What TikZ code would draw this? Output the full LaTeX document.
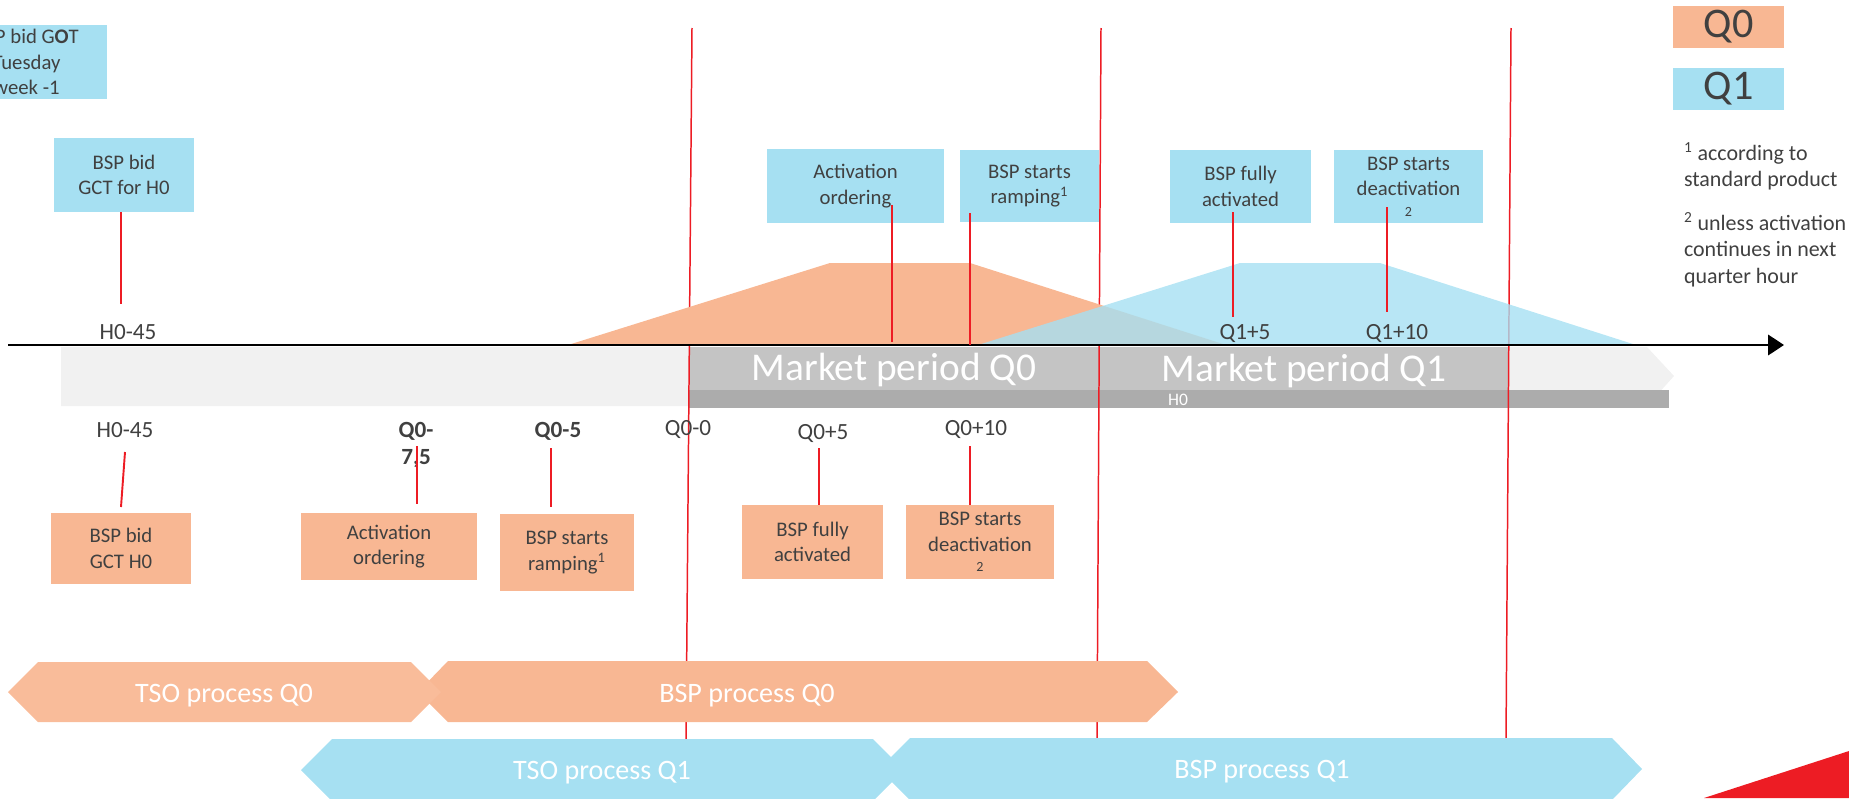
\documentclass[tikz,border=0pt]{standalone}
\usepackage{fontspec}
\setmainfont{Carlito}
\usetikzlibrary{arrows.meta}
\definecolor{evtblue}{RGB}{166,224,242}
\definecolor{evtorange}{RGB}{248,183,147}
\definecolor{tsoorange}{RGB}{249,188,154}
\definecolor{bandgray}{RGB}{241,241,241}
\definecolor{periodgray}{RGB}{196,196,196}
\definecolor{hourgray}{RGB}{172,172,172}
\definecolor{tickred}{RGB}{237,28,36}
\definecolor{inkgray}{RGB}{64,64,64}

\begin{document}
\begin{tikzpicture}[x=0.02cm,y=-0.02cm,
  every node/.style={inner sep=0pt, outer sep=0pt},
  evtbox/.style={rectangle, align=center, text=inkgray, font=\fontsize{11.8}{14.6}\selectfont},
  bluebox/.style={evtbox, fill=evtblue},
  orangebox/.style={evtbox, fill=evtorange},
  timelabel/.style={anchor=base, text=inkgray, font=\fontsize{13.2}{15.5}\selectfont},
  boldlabel/.style={text=inkgray, align=center, font=\fontsize{13.2}{15.3}\selectfont\bfseries},
  tickline/.style={draw=tickred, line width=1.1pt},
  quarterline/.style={draw=tickred, line width=0.85pt},
  proclabel/.style={anchor=base, text=white, font=\fontsize{16}{19}\selectfont},
  periodlabel/.style={anchor=base, text=white, font=\fontsize{22.4}{26}\selectfont},
  legendbox/.style={rectangle, text=inkgray, minimum width=2.22cm, minimum height=0.84cm, font=\fontsize{24}{28}\selectfont},
  notelabel/.style={anchor=west, align=left, text=inkgray, font=\fontsize{12.5}{15.1}\selectfont},
]
\useasboundingbox (0,0) rectangle (1849,798);
\clip (0,0) rectangle (1849,798);

% ---- timeline band with market periods and the hour bar
\fill[bandgray] (61,347) -- (1647,347) -- (1674,376) -- (1647,406) -- (61,406) -- cycle;
\fill[periodgray] (690,347) rectangle (1509,390);
\fill[hourgray] (689,390) rectangle (1669,408);

% ---- quarter-hour boundaries
\coordinate (qa-top) at (692,28);  \coordinate (qa-bot) at (686,740);
\coordinate (qb-top) at (1101,28); \coordinate (qb-bot) at (1097,740);
\coordinate (qc-top) at (1511,28); \coordinate (qc-bot) at (1506,740);
\draw[quarterline] (qa-top) -- (qa-bot);
\draw[quarterline] (qb-top) -- (qb-bot);
\draw[quarterline] (qc-top) -- (qc-bot);

% ---- activation profiles
\fill[evtorange] (568,345) -- (830,263) -- (970,263) -- (1226,345) -- cycle;
\fill[evtblue, fill opacity=0.8] (978,345) -- (1240,263) -- (1380,263) -- (1636,345) -- cycle;

% ---- time axis
\coordinate (ax-start) at (8,345);
\coordinate (ax-end) at (1784,345);
\draw[line width=1.4pt, -{Triangle[length=9pt,width=11.5pt]}] (ax-start) -- (ax-end);

% ---- market period labels
\node[periodlabel] (mp0) at (894,380) {Market period Q0};
\node[periodlabel] (mp1) at (1304,381) {Market period Q1};
\node[text=white, font=\fontsize{10}{12}\selectfont] (hour) at (1178,400) {H0};

% ---- events above the axis (Q1)
\node[bluebox, minimum width=3.22cm, minimum height=1.48cm] (got) at (26.5,62)
  {BSP bid G\textbf{O}T\\Tuesday\\week -1};
\node[bluebox, minimum width=2.80cm, minimum height=1.48cm] (gct1) at (124,175)
  {BSP bid\\GCT for H0};
\node[bluebox, minimum width=3.54cm, minimum height=1.48cm] (ord1) at (855.5,186)
  {Activation\\ordering};
\node[bluebox, minimum width=2.78cm, minimum height=1.44cm] (ramp1) at (1029.5,186)
  {BSP starts\\ramping\textsuperscript{1}};
\node[bluebox, minimum width=2.82cm, minimum height=1.46cm] (full1) at (1240.5,186.5)
  {BSP fully\\activated};
\node[bluebox, minimum width=2.98cm, minimum height=1.46cm] (deact1) at (1408.5,186.5)
  {BSP starts\\deactivation\\[-3pt]{\fontsize{8}{9}\selectfont 2}};

\node[timelabel] (h45a) at (128,339) {H0-45};
\node[timelabel] (q1p5) at (1245,339) {Q1+5};
\node[timelabel] (q1p10) at (1397,339) {Q1+10};

\coordinate (t-gct1-a) at (121,212); \coordinate (t-gct1-b) at (121,304);
\coordinate (t-ord1-a) at (892,205); \coordinate (t-ord1-b) at (892,342);
\coordinate (t-ramp1-a) at (970,213); \coordinate (t-ramp1-b) at (970,345);
\coordinate (t-full1-a) at (1233,212); \coordinate (t-full1-b) at (1233,317);
\coordinate (t-deact1-a) at (1387,207); \coordinate (t-deact1-b) at (1387,312);
\draw[tickline] (t-gct1-a) -- (t-gct1-b);
\draw[tickline] (t-ord1-a) -- (t-ord1-b);
\draw[tickline] (t-ramp1-a) -- (t-ramp1-b);
\draw[tickline] (t-full1-a) -- (t-full1-b);
\draw[tickline] (t-deact1-a) -- (t-deact1-b);

% ---- events below the axis (Q0)
\node[timelabel] (h45b) at (125,437) {H0-45};
\node[boldlabel] (q0m75) at (416,445) {Q0-\\7,5};
\node[timelabel, font=\fontsize{13.2}{15.5}\selectfont\bfseries] (q0m5) at (558,437) {Q0-5};
\node[timelabel] (q0m0) at (688,435) {Q0-0};
\node[timelabel] (q0p5) at (823,439) {Q0+5};
\node[timelabel] (q0p10) at (976,435) {Q0+10};

\node[orangebox, minimum width=2.80cm, minimum height=1.42cm] (gct0) at (121,548.5)
  {BSP bid\\GCT H0};
\node[orangebox, minimum width=3.52cm, minimum height=1.34cm] (ord0) at (389,546.5)
  {Activation\\ordering};
\node[orangebox, minimum width=2.68cm, minimum height=1.54cm] (ramp0) at (567,552.5)
  {BSP starts\\ramping\textsuperscript{1}};
\node[orangebox, minimum width=2.82cm, minimum height=1.48cm] (full0) at (812.5,542)
  {BSP fully\\activated};
\node[orangebox, minimum width=2.96cm, minimum height=1.48cm] (deact0) at (980,542)
  {BSP starts\\deactivation\\[-3pt]{\fontsize{8}{9}\selectfont 2}};

\coordinate (t-gct0-a) at (125,452); \coordinate (t-gct0-b) at (121,507);
\coordinate (t-ord0-a) at (417,446); \coordinate (t-ord0-b) at (417,504);
\coordinate (t-ramp0-a) at (551,448); \coordinate (t-ramp0-b) at (551,507);
\coordinate (t-full0-a) at (819,448); \coordinate (t-full0-b) at (819,505);
\coordinate (t-deact0-a) at (970,446); \coordinate (t-deact0-b) at (970,505);
\draw[tickline] (t-gct0-a) -- (t-gct0-b);
\draw[tickline] (t-ord0-a) -- (t-ord0-b);
\draw[tickline] (t-ramp0-a) -- (t-ramp0-b);
\draw[tickline] (t-full0-a) -- (t-full0-b);
\draw[tickline] (t-deact0-a) -- (t-deact0-b);

% ---- process chevrons
\fill[evtorange] (418,692) -- (448,661) -- (1147,661) -- (1178,692) -- (1147,722) -- (448,722) -- cycle;
\fill[tsoorange] (8,692) -- (38,662) -- (411,662) -- (441,692) -- (411,722) -- (38,722) -- cycle;
\fill[evtblue] (879,769) -- (910,738) -- (1612,738) -- (1642,769) -- (1612,800) -- (910,800) -- cycle;
\fill[evtblue] (301,770) -- (332,739) -- (873,739) -- (904,770) -- (873,801) -- (332,801) -- cycle;
\node[proclabel] (tso0) at (224,702) {TSO process Q0};
\node[proclabel] (bsp0) at (747,702) {BSP process Q0};
\node[proclabel] (tso1) at (602,779) {TSO process Q1};
\node[proclabel] (bsp1) at (1262,778) {BSP process Q1};

% ---- legend and footnotes
\node[legendbox, fill=evtorange] (leg0) at (1728.5,27) {Q0};
\node[legendbox, fill=evtblue] (leg1) at (1728.5,89) {Q1};
\node[notelabel] (note1) at (1684,166.5) {\textsuperscript{1} according to\\standard product};
\node[notelabel] (note2) at (1684,249.5) {\textsuperscript{2} unless activation\\continues in next\\quarter hour};

% ---- corner accent
\fill[tickred] (1704,798) -- (1849,751) -- (1849,798) -- cycle;
\end{tikzpicture}
\end{document}
